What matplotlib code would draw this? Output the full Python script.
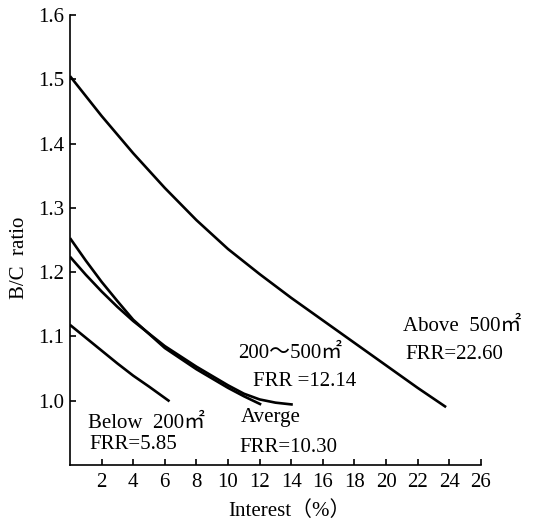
import matplotlib
matplotlib.use("Agg")
import matplotlib.pyplot as plt

plt.rcParams['font.family'] = ['Liberation Serif', 'Noto Sans CJK SC', 'DejaVu Sans']

# B/C ratio vs interest rate
x_above = [0, 2, 4, 6, 8, 10, 12, 14, 16, 18, 20, 22, 23.8]
y_above = [1.505, 1.443, 1.385, 1.331, 1.281, 1.236, 1.197, 1.160, 1.125, 1.090, 1.055, 1.020, 0.990]

x_mid = [0, 1, 2, 3, 4, 6, 8, 10, 11, 12.1]
y_mid = [1.253, 1.218, 1.185, 1.155, 1.126, 1.082, 1.049, 1.020, 1.007, 0.994]

x_avg = [0, 1, 2, 3, 4, 6, 8, 10, 11, 12, 13, 14.1]
y_avg = [1.224, 1.196, 1.170, 1.146, 1.124, 1.085, 1.053, 1.024, 1.011, 1.002, 0.997, 0.994]

x_below = [0, 1, 2, 3, 4, 5, 6.3]
y_below = [1.118, 1.098, 1.078, 1.058, 1.039, 1.022, 0.999]

xticks = [2, 4, 6, 8, 10, 12, 14, 16, 18, 20, 22, 24, 26]
yticks = [1.0, 1.1, 1.2, 1.3, 1.4, 1.5, 1.6]

fig = plt.figure(figsize=(5.35, 5.22), dpi=100)
ax = fig.add_axes([0.1308, 0.1092, 0.768, 0.862])

for xs, ys in [(x_above, y_above), (x_mid, y_mid), (x_avg, y_avg), (x_below, y_below)]:
    ax.plot(xs, ys, color='black', lw=1.9, solid_capstyle='butt')

ax.set_xlim(0, 26)
ax.set_ylim(0.9, 1.6)
ax.set_xticks(xticks)
ax.set_yticks(yticks)
ax.set_xticklabels([str(t) for t in xticks])
ax.set_yticklabels([f'{t:.1f}' for t in yticks])
ax.spines['top'].set_visible(False)
ax.spines['right'].set_visible(False)
for s in ['left', 'bottom']:
    ax.spines[s].set_linewidth(1.2)
ax.tick_params(direction='in', length=4, width=1.2, labelsize=15, pad=4)
ax.tick_params(axis='x', pad=6)

ax.set_xlabel('Interest（%）', fontsize=15)
ax.set_ylabel('B/C  ratio', fontsize=15)
ax.xaxis.set_label_coords(0.535, -0.08)
ax.yaxis.set_label_coords(-0.10, 0.46)

fs = 15
ax.text(1.17, 0.964, 'Below  200㎡', fontsize=fs, va='center')
ax.text(1.2, 0.932, 'FRR=5.85', fontsize=fs, va='center')
ax.text(10.8, 0.974, 'Averge', fontsize=fs, va='center')
ax.text(10.7, 0.927, 'FRR=10.30', fontsize=fs, va='center')
ax.text(10.66, 1.073, '200～500㎡', fontsize=fs, va='center')
ax.text(11.6, 1.030, 'FRR =12.14', fontsize=fs, va='center')
ax.text(21.1, 1.115, 'Above  500㎡', fontsize=fs, va='center')
ax.text(21.2, 1.072, 'FRR=22.60', fontsize=fs, va='center')

fig.savefig('out.png', dpi=100)
